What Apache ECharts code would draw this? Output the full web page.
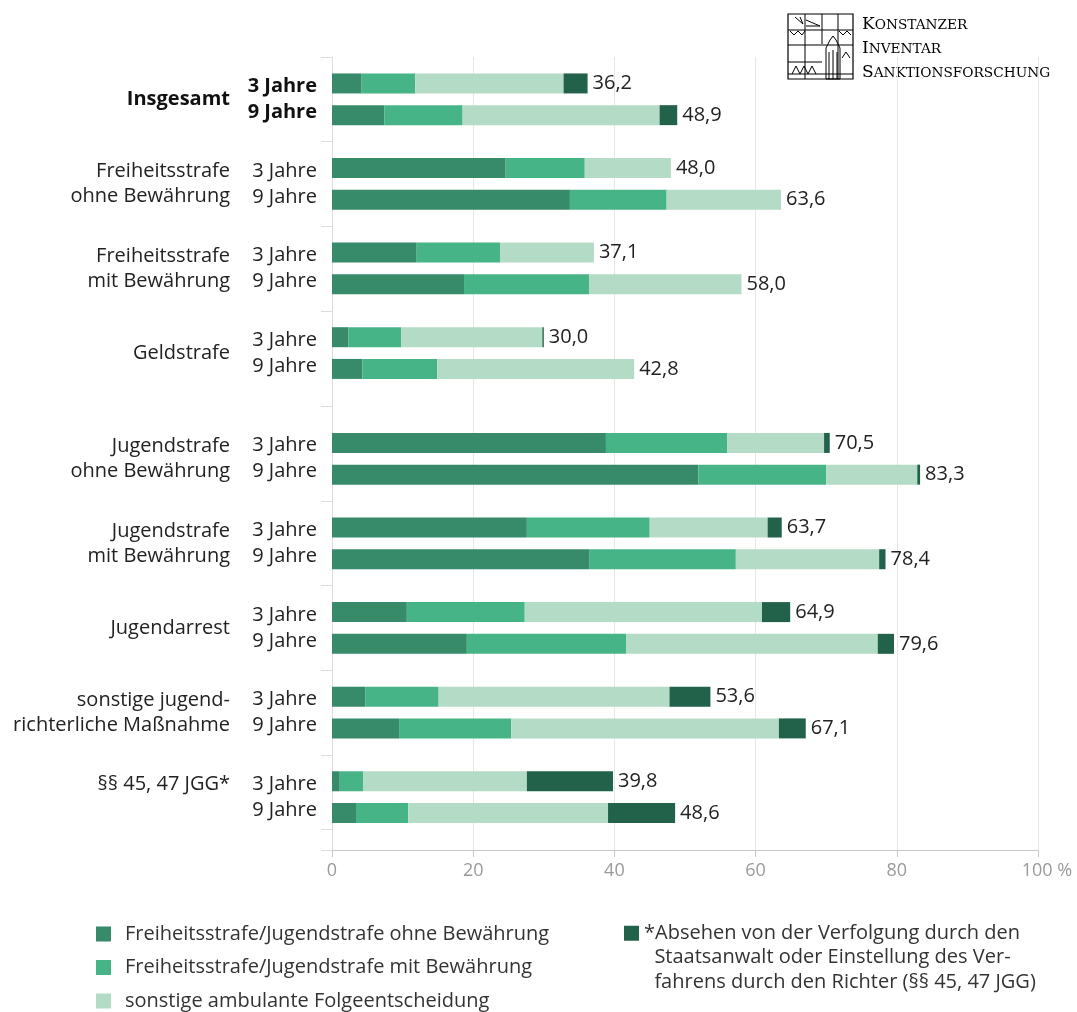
<!DOCTYPE html>
<html><head><meta charset="utf-8">
<script src="https://cdn.jsdelivr.net/npm/echarts@6/dist/echarts.min.js"></script>
<style>html,body{margin:0;padding:0;background:#fff}#c{width:1077px;height:1012px}</style>
</head><body><div id="c"></div>
<script>
// ---------- data ----------
const groups = ['Insgesamt', 'Freiheitsstrafe\nohne Bewährung', 'Freiheitsstrafe\nmit Bewährung', 'Geldstrafe',
  'Jugendstrafe\nohne Bewährung', 'Jugendstrafe\nmit Bewährung', 'Jugendarrest',
  'sonstige jugend-\nrichterliche Maßnahme', '§§ 45, 47 JGG*'];
const periods = ['3 Jahre', '9 Jahre'];
const seriesNames = ['Freiheitsstrafe/Jugendstrafe ohne Bewährung', 'Freiheitsstrafe/Jugendstrafe mit Bewährung',
  'sonstige ambulante Folgeentscheidung',
  '*Absehen von der Verfolgung durch den Staatsanwalt oder Einstellung des Verfahrens durch den Richter (§§ 45, 47 JGG)'];
const legendLines4 = ['*Absehen von der Verfolgung durch den', '  Staatsanwalt oder Einstellung des Ver-', '  fahrens durch den Richter (§§ 45, 47 JGG)'];
// rows: group0-3J, group0-9J, group1-3J, ...
const ohneBew  = [4.2, 7.4, 24.6, 33.7, 12.0, 18.7, 2.3, 4.3, 38.8, 51.9, 27.6, 36.5, 10.6, 19.1, 4.7, 9.5, 1.1, 3.4];
const mitBew   = [7.6, 11.1, 11.2, 13.7, 11.8, 17.7, 7.5, 10.6, 17.2, 18.1, 17.4, 20.7, 16.7, 22.6, 10.4, 15.9, 3.3, 7.4];
const sonstige = [21.0, 27.9, 12.2, 16.2, 13.3, 21.6, 20.0, 27.9, 13.7, 12.9, 16.7, 20.3, 33.6, 35.6, 32.7, 37.9, 23.2, 28.3];
const absehen  = [3.4, 2.5, 0, 0, 0, 0, 0.2, 0, 0.8, 0.4, 2.0, 0.9, 4.0, 2.3, 5.8, 3.8, 12.2, 9.5];
const totals   = [36.2, 48.9, 48.0, 63.6, 37.1, 58.0, 30.0, 42.8, 70.5, 83.3, 63.7, 78.4, 64.9, 79.6, 53.6, 67.1, 39.8, 48.6];
const xTicks = [0, 20, 40, 60, 80, 100];

// ---------- layout ----------
const colors = ['#378b6a', '#47b488', '#b4dbc5', '#22624a'];
const FONT = 'Open Sans';
const FIRST_SLOT = 2, GROUP_PITCH = 8, ROW_PITCH = 3, EXTRA_AFTER = 3, EXTRA = 2, TOTAL_SLOTS = 75;
const NAME_ON_FIRST_ROW = 8;
function slotOf(g, p) { return FIRST_SLOT + GROUP_PITCH * g + (g > EXTRA_AFTER ? EXTRA : 0) + ROW_PITCH * p; }
const slots = [];
for (let i = 0; i < TOTAL_SLOTS; i++) slots.push('s' + i);
const rowAt = new Array(TOTAL_SLOTS).fill(-1);
const yearLabel = new Array(TOTAL_SLOTS).fill('');
const nameLabel = new Array(TOTAL_SLOTS).fill('');
groups.forEach((g, gi) => {
  periods.forEach((p, pi) => { rowAt[slotOf(gi, pi)] = gi * 2 + pi; });
  const mid = slotOf(gi, 0) + 1;
  if (gi === 0) {
    yearLabel[mid] = periods.map(p => '{b|' + p + '}').join('\n');
    nameLabel[mid] = '{b|' + g + '}';
  } else {
    yearLabel[mid] = periods.join('\n');
    nameLabel[mid] = gi === NAME_ON_FIRST_ROW ? g + '\n ' : g;
  }
});
const tickSet = new Set();
tickSet.add(slotOf(0, 0) - 2);
for (let gi = 1; gi < groups.length; gi++) {
  tickSet.add(((slotOf(gi - 1, 1) + 1) + slotOf(gi, 0)) / 2);
}
tickSet.add(slotOf(groups.length - 1, 1) + 2);

const valueArrays = [ohneBew, mitBew, sonstige, absehen];
const fmt = v => v.toFixed(1).replace('.', ',');

const series = valueArrays.map((arr, si) => ({
  name: seriesNames[si],
  type: 'bar',
  stack: 'total',
  barWidth: 20,
  yAxisIndex: 0,
  itemStyle: { color: colors[si] },
  data: slots.map((s, i) => rowAt[i] >= 0 ? arr[rowAt[i]] : null),
  label: si === 3 ? {
    show: true, position: 'right', distance: 5,
    fontFamily: FONT, fontSize: 20, color: '#222',
    formatter: p => rowAt[p.dataIndex] >= 0 ? fmt(totals[rowAt[p.dataIndex]]) : ''
  } : { show: false },
  emphasis: { disabled: true }
}));

const commonLabel = { interval: 0, fontFamily: FONT, fontSize: 20, color: '#222', padding: [10.57, 0, 0, 0] };
const logoRich = { a: { fontFamily: 'DejaVu Serif', fontSize: 17, fill: '#000' }, b: { fontFamily: 'DejaVu Serif', fontSize: 13.7, fill: '#000' } };

const option = {
  animation: false,
  textStyle: { fontFamily: FONT },
  grid: { left: 332, right: 39, top: 57, bottom: 162 },
  xAxis: {
    type: 'value', min: xTicks[0], max: xTicks[xTicks.length - 1], interval: xTicks[1] - xTicks[0],
    axisLine: { show: true, lineStyle: { color: '#c8c8c8' } },
    axisTick: { show: true, length: 7, lineStyle: { color: '#c8c8c8' } },
    axisLabel: {
      color: '#9a9a9a', fontSize: 18, margin: 12, fontFamily: FONT,
      formatter: v => v === 100 ? '{p|' + v + ' %}' : String(v),
      rich: { p: { padding: [0, 0, 0, 18], color: '#9a9a9a', fontSize: 18, fontFamily: FONT } }
    },
    splitLine: { show: true, lineStyle: { color: '#e6e6e6' } }
  },
  yAxis: [{
    type: 'category', inverse: true, data: slots,
    axisLine: { show: true, lineStyle: { color: '#dcdcdc' } },
    axisTick: { show: true, length: 11, interval: (i) => tickSet.has(i), lineStyle: { color: '#dcdcdc' } },
    axisLabel: Object.assign({}, commonLabel, {
      margin: 15, lineHeight: 26,
      formatter: (v, i) => yearLabel[i],
      rich: { b: { fontWeight: 'bold', fontSize: 20, lineHeight: 26, fontFamily: FONT, color: '#111' } }
    })
  }, {
    type: 'category', inverse: true, data: slots, position: 'left',
    axisLine: { show: false }, axisTick: { show: false },
    axisLabel: Object.assign({}, commonLabel, {
      margin: 102, lineHeight: 25,
      formatter: (v, i) => nameLabel[i],
      rich: { b: { fontWeight: 'bold', fontSize: 20, lineHeight: 25, fontFamily: FONT, color: '#111' } }
    })
  }],
  legend: [{
    data: seriesNames.slice(0, 3), orient: 'vertical', left: 96, top: 922, height: 120, padding: 0,
    itemWidth: 15, itemHeight: 15, itemGap: 9.5, icon: 'rect', selectedMode: false,
    textStyle: { fontFamily: FONT, fontSize: 20, lineHeight: 24, color: '#333', padding: [0, 0, 0, 9] }
  }, {
    data: [seriesNames[3]], orient: 'vertical', left: 624, top: 872, height: 160, padding: 0,
    itemWidth: 15, itemHeight: 15, icon: 'rect', selectedMode: false,
    formatter: () => [' ', ' '].concat(legendLines4).join('\n'),
    textStyle: { fontFamily: FONT, fontSize: 20, lineHeight: 24.5, color: '#333' }
  }],
  graphic: [
    { type: 'rect', shape: { x: 788, y: 14, width: 65, height: 65 }, style: { fill: 'none', stroke: '#000', lineWidth: 1.2 } },
    { type: 'polyline', shape: { points: [[805, 14], [805, 79]] }, style: { stroke: '#000', lineWidth: 1 } },
    { type: 'polyline', shape: { points: [[822, 14], [822, 44]] }, style: { stroke: '#000', lineWidth: 1 } },
    { type: 'polyline', shape: { points: [[838, 14], [838, 79]] }, style: { stroke: '#000', lineWidth: 1 } },
    { type: 'polyline', shape: { points: [[788, 30], [853, 30]] }, style: { stroke: '#000', lineWidth: 1 } },
    { type: 'polyline', shape: { points: [[788, 45], [853, 45]] }, style: { stroke: '#000', lineWidth: 1 } },
    { type: 'polyline', shape: { points: [[788, 62], [822, 62]] }, style: { stroke: '#000', lineWidth: 1 } },
    { type: 'polyline', shape: { points: [[788, 74], [853, 74]] }, style: { stroke: '#000', lineWidth: 1 } },
    { type: 'polyline', shape: { points: [[795, 17], [803, 24], [800, 17]] }, style: { fill: 'none', stroke: '#000', lineWidth: 1 } },
    { type: 'polyline', shape: { points: [[806, 20], [820, 26], [806, 26]] }, style: { fill: 'none', stroke: '#000', lineWidth: 1 } },
    { type: 'polyline', shape: { points: [[790, 31], [794, 35], [798, 31], [802, 35], [805, 31]] }, style: { fill: 'none', stroke: '#000', lineWidth: 1 } },
    { type: 'polyline', shape: { points: [[839, 31], [843, 35], [847, 31], [851, 35]] }, style: { fill: 'none', stroke: '#000', lineWidth: 1 } },
    { type: 'polygon', shape: { points: [[826, 79], [826, 48], [830, 40], [833, 36], [836, 40], [840, 48], [840, 79]] }, style: { fill: 'none', stroke: '#000', lineWidth: 1 } },
    { type: 'polyline', shape: { points: [[829, 79], [829, 52]] }, style: { stroke: '#000', lineWidth: 1 } },
    { type: 'polyline', shape: { points: [[833, 79], [833, 50]] }, style: { stroke: '#000', lineWidth: 1 } },
    { type: 'polyline', shape: { points: [[837, 79], [837, 52]] }, style: { stroke: '#000', lineWidth: 1 } },
    { type: 'polyline', shape: { points: [[792, 74], [796, 66], [800, 74], [804, 66], [808, 74], [812, 66], [816, 74]] }, style: { fill: 'none', stroke: '#000', lineWidth: 1 } },
    { type: 'polyline', shape: { points: [[842, 58], [846, 52], [850, 58]] }, style: { fill: 'none', stroke: '#000', lineWidth: 1 } },
    { type: 'text', x: 862, y: 25, style: { text: '{a|K}{b|ONSTANZER}', verticalAlign: 'middle', rich: logoRich } },
    { type: 'text', x: 862, y: 49, style: { text: '{a|I}{b|NVENTAR}', verticalAlign: 'middle', rich: logoRich } },
    { type: 'text', x: 862, y: 73, style: { text: '{a|S}{b|ANKTIONSFORSCHUNG}', verticalAlign: 'middle', rich: logoRich } }
  ],
  series: series
};
const chart = echarts.init(document.getElementById('c'), null, { renderer: 'canvas' });
chart.setOption(option);
</script></body></html>
